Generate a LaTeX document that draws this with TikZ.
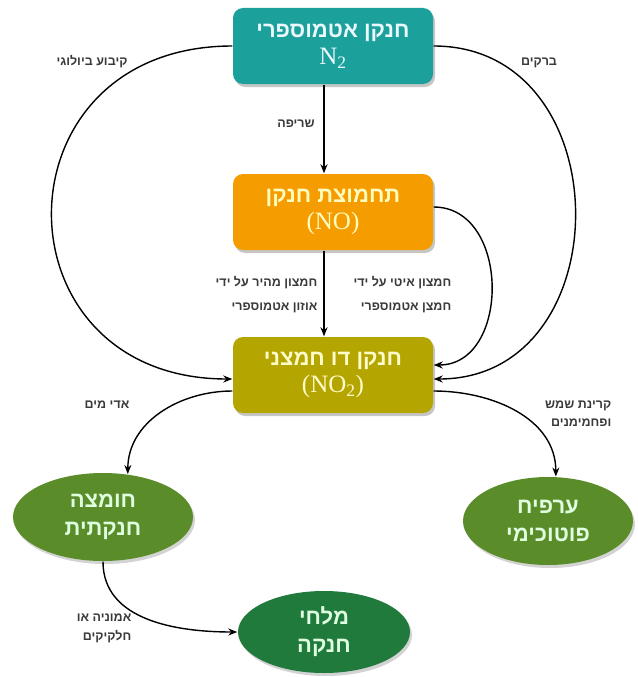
\documentclass[tikz,border=0pt]{standalone}
\usepackage{fontspec}
\usetikzlibrary{arrows.meta,shapes.geometric,shadows}
\newfontfamily\hebfont[Script=Hebrew]{Liberation Sans}
\newfontfamily\formfont{Liberation Serif}
\TeXXeTstate=1
\newcommand{\heb}[1]{{\hebfont\beginR #1\endR}}
\newcommand{\chem}[1]{{\formfont\mdseries\fontsize{25}{27}\selectfont #1}}
\definecolor{tealbox}{HTML}{1CA09B}
\definecolor{orangebox}{HTML}{F59D00}
\definecolor{olivebox}{HTML}{B5A500}
\definecolor{leafoval}{HTML}{5B8C2A}
\definecolor{darkoval}{HTML}{1F7A3C}
\definecolor{notegray}{HTML}{3A3A3A}

\begin{document}
\begin{tikzpicture}[x=1pt,y=-1pt, line width=1.4pt, >={Stealth[length=9pt,width=7pt]},
    main box/.style={rectangle,rounded corners=10pt,minimum width=200pt,minimum height=76pt,
      align=center,font=\fontsize{22}{27}\selectfont\bfseries,
      drop shadow={opacity=0.45,shadow xshift=2pt,shadow yshift=-3pt}},
    main oval/.style={ellipse,minimum width=180pt,minimum height=88pt,align=center,
      font=\fontsize{22}{28}\selectfont\bfseries,text=white!88!green,
      drop shadow={opacity=0.35,shadow xshift=2pt,shadow yshift=-3pt}},
    note/.style={inner sep=0pt,align=right,text=notegray,font=\fontsize{12.5}{24}\selectfont\bfseries}]

  \useasboundingbox (0,0) rectangle (637,677);

  % boxes
  \node[main box,fill=tealbox,text=white!92!cyan] (atm) at (333,46) {\heb{חנקן אטמוספרי}\\\chem{N\textsubscript{2}}};
  \node[main box,fill=orangebox,text=yellow!25] (nox) at (333,212) {\heb{תחמוצת חנקן}\\\chem{(NO)}};
  \node[main box,fill=olivebox,text=yellow!20] (dio) at (333,375) {\heb{חנקן דו חמצני}\\\chem{(NO\textsubscript{2})}};

  % ovals
  \node[main oval,fill=leafoval] (acid) at (103,517) {\heb{חומצה}\\\heb{חנקתית}};
  \node[main oval,fill=leafoval,minimum width=170pt] (smog) at (548,521) {\heb{ערפיח}\\\heb{פוטוכימי}};
  \node[main oval,fill=darkoval,minimum width=172pt,minimum height=82pt] (salt) at (324,632) {\heb{מלחי}\\\heb{חנקה}};

  \path[->]
    ([xshift=-9pt]atm.south) edge ([xshift=-9pt]nox.north)
    ([xshift=-9pt]nox.south) edge ([xshift=-9pt]dio.north)
    (atm.west) edge[out=180,in=180,looseness=1.85] ([yshift=-4pt]dio.west)
    (atm.east) edge[out=0,in=0,looseness=1.45] ([yshift=-4pt]dio.east)
    ([yshift=5pt]nox.east) edge[out=0,in=0,looseness=1.25] ([yshift=10pt]dio.east)
    ([yshift=-16pt]dio.west) edge[out=180,in=90] (acid.60)
    ([yshift=-16pt]dio.east) edge[out=0,in=90] (smog.80)
    (acid.south) edge[out=-90,in=180] (salt.west);

  % labels
  \node[note] (lbio) at (92,62) {\heb{קיבוע ביולוגי}};
  \node[note] (lbrk) at (539,63) {\heb{ברקים}};
  \node[note] (lburn) at (296,124) {\heb{שריפה}};
  \node[note,anchor=east] (lfast) at (318,295) {\heb{חמצון מהיר על ידי}\\\heb{אוזון אטמוספרי}};
  \node[note,anchor=east] (lslow) at (452,295) {\heb{חמצון איטי על ידי}\\\heb{חמצן אטמוספרי}};
  \node[note] (lwat) at (107,405) {\heb{אדי מים}};
  \node[note,anchor=east,font=\fontsize{12.5}{18}\selectfont\bfseries] (lsun) at (612,414) {\heb{קרינת שמש}\\\heb{ופחמימנים}};
  \node[note,anchor=east,font=\fontsize{12.5}{19}\selectfont\bfseries] (lamm) at (132,628) {\heb{אמוניה או}\\\heb{חלקיקים}};
\end{tikzpicture}
\end{document}
